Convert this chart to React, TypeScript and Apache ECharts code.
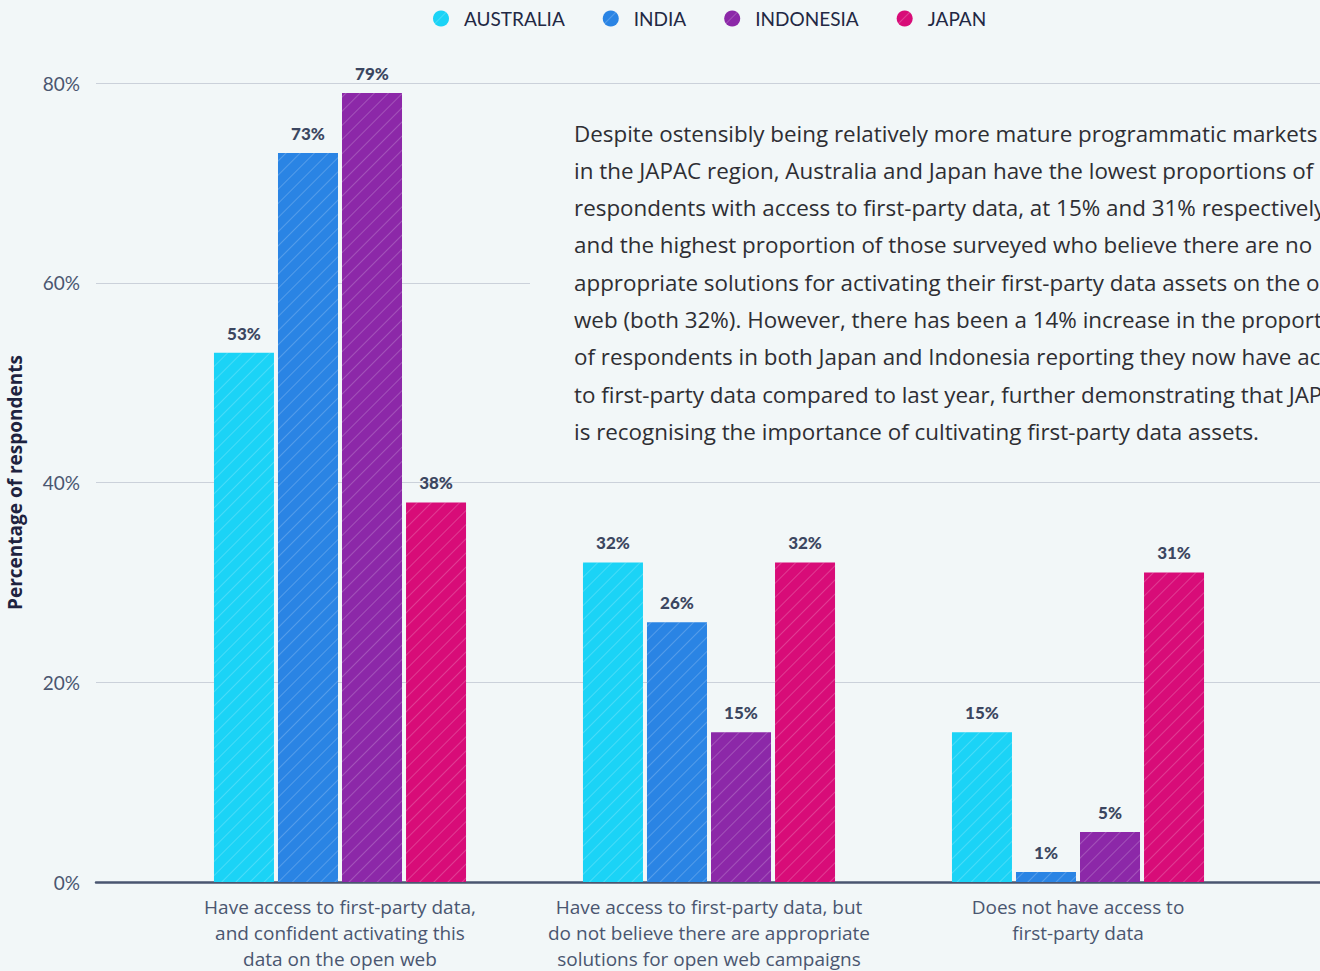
import React, { useEffect, useRef } from "react";
import * as echarts from "echarts";

const categories = [
  "Have access to first-party data,\nand confident activating this\ndata on the open web",
  "Have access to first-party data, but\ndo not believe there are appropriate\nsolutions for open web campaigns",
  "Does not have access to\nfirst-party data",
];
const australia = [53, 32, 15];
const india = [73, 26, 1];
const indonesia = [79, 15, 5];
const japan = [38, 32, 31];
const seriesNames = ["AUSTRALIA", "INDIA", "INDONESIA", "JAPAN"];
const colors = ["#1bd3f6", "#2a84e4", "#8c28a8", "#d80c78"];
const yTicks = { min: 0, max: 80, interval: 20 };
const noteLines = [
  "Despite ostensibly being relatively more mature programmatic markets",
  "in the JAPAC region, Australia and Japan have the lowest proportions of",
  "respondents with access to first-party data, at 15% and 31% respectively,",
  "and the highest proportion of those surveyed who believe there are no",
  "appropriate solutions for activating their first-party data assets on the open",
  "web (both 32%). However, there has been a 14% increase in the proportion",
  "of respondents in both Japan and Indonesia reporting they now have access",
  "to first-party data compared to last year, further demonstrating that JAPAC",
  "is recognising the importance of cultivating first-party data assets.",
];

const BG = "#f2f7f8";
const FONT = "Lato, 'Open Sans', sans-serif";
const FONT2 = "'Open Sans', Lato, sans-serif";

export default function App() {
  const ref = useRef<HTMLDivElement>(null);
  useEffect(() => {
    document.body.style.margin = "0";
    document.body.style.background = BG;
    const chart = echarts.init(ref.current!, null, { renderer: "svg" });
    const data = [australia, india, indonesia, japan];
    const decal = {
      symbol: "rect",
      symbolSize: 1,
      dashArrayX: [1, 0],
      dashArrayY: [1, 9],
      rotation: -Math.PI / 4,
      color: "rgba(255,255,255,0.2)",
    };
    chart.setOption({
      animation: false,
      backgroundColor: BG,
      textStyle: { fontFamily: FONT },
      legend: {
        top: 4,
        left: 428,
        icon: "circle",
        itemWidth: 16,
        itemHeight: 16,
        itemGap: 38,
        data: seriesNames,
        textStyle: {
          fontFamily: FONT,
          fontSize: 19,
          color: "#222844",
          padding: [0, 0, 0, 10],
        },
      },
      grid: [
        { left: 96, right: 0, top: 83, bottom: 89, outerBoundsMode: "none", containLabel: false },
        { left: 155.5, right: 57.5, top: 83, bottom: 89, outerBoundsMode: "none", containLabel: false },
      ],
      xAxis: [
        {
          gridIndex: 0,
          type: "category",
          data: [""],
          axisLine: { lineStyle: { color: "#4a5670", width: 2.5 } },
          axisTick: { show: false },
          axisLabel: { show: false },
        },
        {
          gridIndex: 1,
          type: "category",
          data: categories,
          axisLine: { show: false },
          axisTick: { show: false },
          axisLabel: {
            color: "#4a5670",
            fontFamily: FONT2,
            fontSize: 19,
            lineHeight: 26,
            margin: 12,
            interval: 0,
          },
        },
      ],
      yAxis: [
        {
          gridIndex: 0,
          type: "value",
          ...yTicks,
          name: "Percentage of respondents",
          nameLocation: "middle",
          nameRotate: 90,
          nameGap: 72,
          nameTextStyle: {
            fontFamily: FONT2,
            fontSize: 19,
            fontWeight: "bold",
            color: "#1e2340",
          },
          axisLine: { show: false },
          axisTick: { show: false },
          axisLabel: {
            formatter: "{value}%",
            color: "#4a5670",
            fontFamily: FONT,
            fontSize: 19,
            margin: 16,
          },
          splitLine: { lineStyle: { color: "#cbd1da", width: 1 } },
        },
        {
          gridIndex: 1,
          type: "value",
          ...yTicks,
          show: false,
          splitLine: { show: false },
        },
      ],
      series: seriesNames.map((name, i) => ({
        name,
        type: "bar",
        xAxisIndex: 1,
        yAxisIndex: 1,
        data: data[i],
        barWidth: 60,
        barGap: "6.7%",
        itemStyle: { color: colors[i], decal },
        label: {
          show: true,
          position: "top",
          distance: 11,
          formatter: "{c}%",
          fontFamily: FONT,
          fontWeight: 900,
          fontSize: 17,
          color: "#3b4660",
        },
      })),
      graphic: [
        {
          type: "rect",
          z: 100,
          shape: { x: 530, y: 100, width: 800, height: 362 },
          style: { fill: BG },
        },
        ...noteLines.map((t, i) => ({
          type: "text",
          z: 101,
          x: 574,
          y: 133 + i * 37.3,
          style: {
            text: t,
            fontFamily: FONT2,
            fontSize: 22.4,
            fill: "#2e2e33",
            textVerticalAlign: "middle",
          },
        })),
      ],
    });
    return () => chart.dispose();
  }, []);
  return (
    <div
      ref={ref}
      style={{ position: "absolute", left: 0, top: 0, width: 1320, height: 971, overflow: "hidden" }}
    />
  );
}
